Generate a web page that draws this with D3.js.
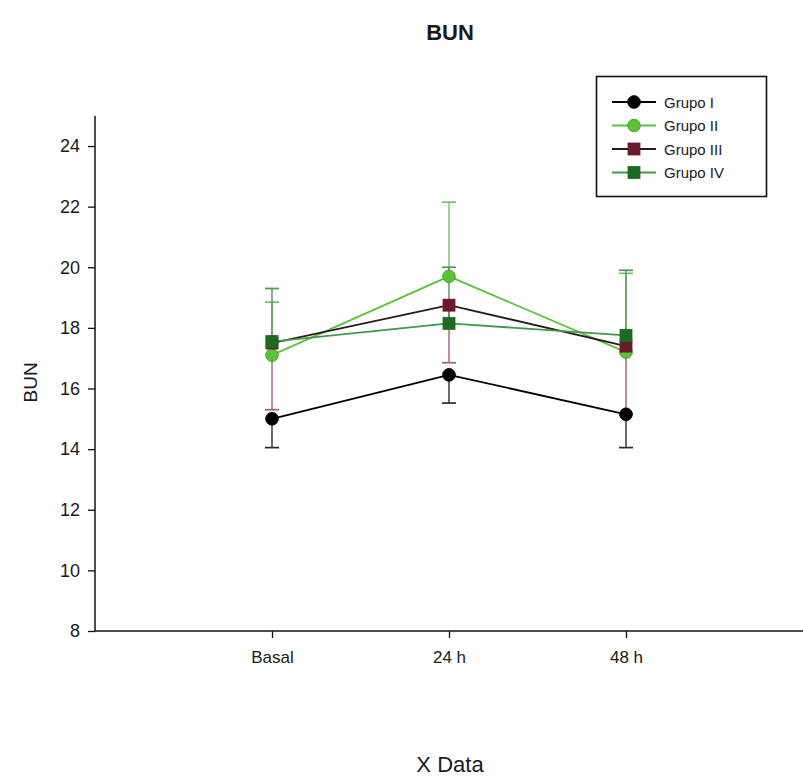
<!DOCTYPE html>
<html>
<head>
<meta charset="utf-8">
<script src="https://cdn.jsdelivr.net/npm/d3@7"></script>
<style>
  html, body { margin: 0; padding: 0; background: #fff; }
  svg { display: block; }
  text { font-family: "Liberation Sans", Arial, sans-serif; fill: #1a1a1a; }
</style>
</head>
<body>
<svg id="chart" width="803" height="779"></svg>
<script>
// time points and group values (mean, error)
const categories = ['Basal', '24 h', '48 h'];
const groups = ['Grupo I', 'Grupo II', 'Grupo III', 'Grupo IV'];
const grupoI   = [15.0, 16.45, 15.15];
const grupoII  = [17.1, 19.7, 17.2];
const grupoIII = [17.5, 18.75, 17.4];
const grupoIV  = [17.55, 18.15, 17.75];
const errI   = [0.95, 0.93, 1.1];
const errII  = [1.75, 2.45, 2.6];
const errIII = [2.2, 1.9, 2.25];
const errIV  = [1.75, 1.85, 2.15];
const yTicks = [8, 10, 12, 14, 16, 18, 20, 22, 24];

// dir: error bars only drawn one way (-1 down, +1 up), as in the original plot
const series = [
  { name: groups[0], values: grupoI,   err: errI,   dir: -1, shape: 'circle', fill: '#000000', stroke: '#000', line: '#000000', bar: '#2a2a3a' },
  { name: groups[1], values: grupoII,  err: errII,  dir: 1,  shape: 'circle', fill: '#5cc23a', stroke: '#45a82a', line: '#5cc23a', bar: '#74c462' },
  { name: groups[2], values: grupoIII, err: errIII, dir: -1, shape: 'square', fill: '#6a1a2c', stroke: '#6a1a2c', line: '#2a1a1e', bar: '#a85a80' },
  { name: groups[3], values: grupoIV,  err: errIV,  dir: 1,  shape: 'square', fill: '#1d6a22', stroke: '#1d6a22', line: '#3f9a4a', bar: '#5a8f62' }
];

const svg = d3.select('#chart');

const x = d3.scaleLinear().domain([0, 4]).range([95, 803]);
const y = d3.scaleLinear().domain([8, 25]).range([631, 115.7]);

// title
svg.append('text')
  .attr('x', 450).attr('y', 40)
  .attr('text-anchor', 'middle')
  .attr('font-size', 22).attr('font-weight', 'bold')
  .text('BUN');

// y axis
const yAxis = svg.append('g')
  .attr('transform', `translate(${x(0)},0)`)
  .call(d3.axisLeft(y).tickValues(yTicks).tickSize(7).tickPadding(8).tickFormat(d3.format('d')));
yAxis.select('.domain').attr('stroke', '#111').attr('stroke-width', 1.5).attr('d', `M0,${y(25)}V${y(8)}`);
yAxis.selectAll('.tick line').attr('stroke', '#111').attr('stroke-width', 1.3);
yAxis.selectAll('.tick text').attr('font-size', 18).attr('fill', '#1a1a1a')
  .style('font-family', '"Liberation Sans", Arial, sans-serif');

// x axis
const xAxis = svg.append('g')
  .attr('transform', `translate(0,${y(8)})`)
  .call(d3.axisBottom(x).tickValues([1, 2, 3]).tickSize(7).tickPadding(13)
    .tickFormat(d => categories[d - 1]));
xAxis.select('.domain').attr('stroke', '#111').attr('stroke-width', 1.5).attr('d', `M${x(0)},0H${x(4)}`);
xAxis.selectAll('.tick line').attr('stroke', '#111').attr('stroke-width', 1.3);
xAxis.selectAll('.tick text').attr('font-size', 17).attr('fill', '#1a1a1a')
  .style('font-family', '"Liberation Sans", Arial, sans-serif');

// axis titles
svg.append('text')
  .attr('transform', `translate(37,${y(16.2)}) rotate(-90)`)
  .attr('text-anchor', 'middle')
  .attr('font-size', 19)
  .text('BUN');

svg.append('text')
  .attr('x', 450).attr('y', 772)
  .attr('text-anchor', 'middle')
  .attr('font-size', 22)
  .text('X Data');

const plot = svg.append('g');
const cap = 7;

// error bars
series.forEach(s => {
  const g = plot.append('g');
  s.values.forEach((v, i) => {
    const cx = x(i + 1);
    const y0 = y(v), y1 = y(v + s.dir * s.err[i]);
    g.append('line').attr('x1', cx).attr('x2', cx).attr('y1', y0).attr('y2', y1)
      .attr('stroke', s.bar).attr('stroke-width', 1.4);
    g.append('line')
      .attr('x1', cx - cap).attr('x2', cx + cap).attr('y1', y1).attr('y2', y1)
      .attr('stroke', s.bar).attr('stroke-width', 1.7);
  });
});

// lines
const line = d3.line().x((d, i) => x(i + 1)).y(d => y(d));
series.forEach(s => {
  plot.append('path').datum(s.values)
    .attr('d', line)
    .attr('fill', 'none')
    .attr('stroke', s.line)
    .attr('stroke-width', 1.8);
});

// markers
function drawMarker(g, s, cx, cy) {
  if (s.shape === 'circle') {
    g.append('circle').attr('cx', cx).attr('cy', cy).attr('r', 6.3)
      .attr('fill', s.fill).attr('stroke', s.stroke).attr('stroke-width', 1);
  } else {
    g.append('rect').attr('x', cx - 6).attr('y', cy - 6).attr('width', 12).attr('height', 12)
      .attr('fill', s.fill).attr('stroke', s.stroke).attr('stroke-width', 0.8);
  }
}
series.forEach(s => {
  const g = plot.append('g');
  s.values.forEach((v, i) => drawMarker(g, s, x(i + 1), y(v)));
});

// legend
const legend = svg.append('g');
legend.append('rect')
  .attr('x', 596.5).attr('y', 76.5).attr('width', 170).attr('height', 120)
  .attr('fill', '#fff').attr('stroke', '#111').attr('stroke-width', 1.6);
series.forEach((s, i) => {
  const ly = 102 + i * 23.5;
  legend.append('line').attr('x1', 612).attr('x2', 656).attr('y1', ly).attr('y2', ly)
    .attr('stroke', s.line).attr('stroke-width', 1.8);
  drawMarker(legend, s, 634, ly);
  legend.append('text').attr('x', 664).attr('y', ly + 5.5)
    .attr('font-size', 15).text(s.name);
});
</script>
</body>
</html>
